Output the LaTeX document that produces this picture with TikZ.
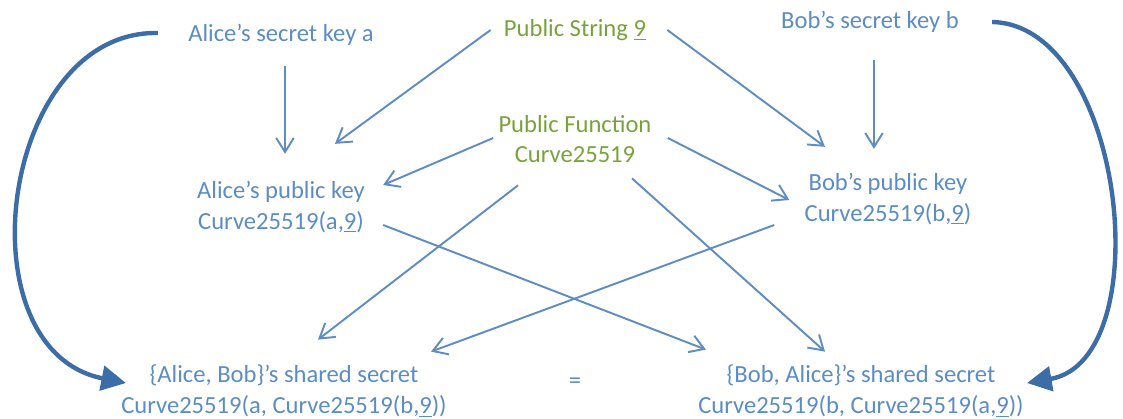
\documentclass[tikz,border=0pt]{standalone}
\usepackage{fontspec}
\setmainfont{Carlito}
\usetikzlibrary{arrows.meta}
\definecolor{keyblue}{RGB}{91,140,198}
\definecolor{pubgreen}{RGB}{120,163,60}
\definecolor{lineblue}{RGB}{95,140,196}
\definecolor{swapblue}{RGB}{61,109,166}

\begin{document}
\begin{tikzpicture}[%
x=0.02cm, y=-0.02cm, inner sep=0pt,
>={Straight Barb[length=8pt,width=10pt]},
every node/.style={font=\fontsize{14}{17.5}\selectfont, align=center},
key/.style={text=keyblue},
public/.style={text=pubgreen},
link/.style={->, draw=lineblue, line width=1.1pt},
swap/.style={-{Triangle[length=14pt,width=14pt]}, draw=swapblue, line width=2.5pt}
]
\useasboundingbox (0,0) rectangle (1123,419);
% secrets and public values
\node[key] (alicesec) at (281,35) {Alice’s secret key a};
\node[public] (pubstr) at (575,30) {Public String \underline{9}};
\node[key] (bobsec) at (870,22) {Bob’s secret key b};
\node[public] (pubfun) at (575,139) {Public Function\\Curve25519};
% public keys
\node[key] (alicepub) at (281,207) {Alice’s public key\\Curve25519(a,\underline{9})};
\node[key] (bobpub) at (888,199) {Bob’s public key\\Curve25519(b,\underline{9})};
% shared secrets
\node[key] (aliceshared) at (284,391) {\{Alice, Bob\}’s shared secret\\Curve25519(a, Curve25519(b,\underline{9}))};
\node[key] (eq) at (575,383) {=};
\node[key] (bobshared) at (861,391) {\{Bob, Alice\}’s shared secret\\Curve25519(b, Curve25519(a,\underline{9}))};
% key generation
\draw[link] ([shift={(4,20)}]alicesec.south) -- ([shift={(4,-27)}]alicepub.north);
\draw[link] ([shift={(4,27)}]bobsec.south) -- ([shift={(-14,-24)}]bobpub.north);
\draw[link] ([shift={(-13,0)}]pubstr.west) -- ([shift={(54,-37)}]alicepub.north);
\draw[link] ([shift={(21,0)}]pubstr.east) -- ([shift={(-63,-26)}]bobpub.north);
\draw[link] ([shift={(-5,-1)}]pubfun.west) -- ([shift={(18,-22)}]alicepub.east);
\draw[link] ([shift={(16,-1)}]pubfun.east) -- ([shift={(-15,1)}]bobpub.west);
% shared secret computation
\draw[link] ([shift={(-57,22)}]pubfun.south) -- ([shift={(34,-25)}]aliceshared.north);
\draw[link] ([shift={(57,15)}]pubfun.south) -- ([shift={(-36,-13)}]bobshared.north);
\draw[link] ([shift={(18,18)}]alicepub.east) -- ([shift={(8,-15)}]bobshared.north west);
\draw[link] ([shift={(-30,26)}]bobpub.west) -- ([shift={(-16,-13)}]aliceshared.north east);
% secret keys carried down
\draw[swap] ([shift={(-30,-2)}]alicesec.west) .. controls (0,30) and (-40,350) .. ([shift={(5,-8)}]aliceshared.west);
\draw[swap] ([shift={(33,0)}]bobsec.east) .. controls (1125,25) and (1160,360) .. ([shift={(3,-8)}]bobshared.east);
\end{tikzpicture}
\end{document}
